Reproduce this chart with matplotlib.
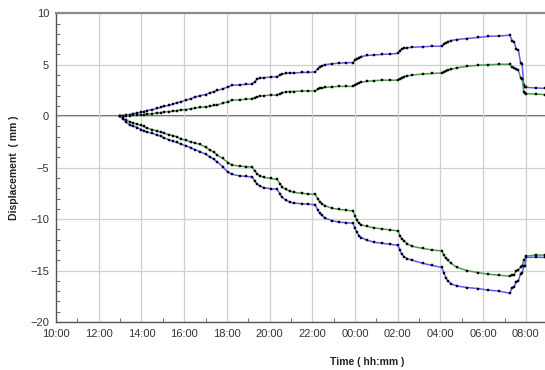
import matplotlib

matplotlib.use("Agg")
import matplotlib.pyplot as plt
from matplotlib.ticker import FixedLocator, FuncFormatter, MultipleLocator

# Time of each reading, hours counted from 00:00 of the first day.
hours = [
    13.0, 13.15, 13.3, 13.45, 13.6, 13.8, 14.0, 14.1, 14.25, 14.5,
    14.75, 14.9, 15.05, 15.3, 15.5, 15.65, 15.85, 16.1, 16.3, 16.5,
    16.75, 17.0, 17.2, 17.4, 17.55, 17.8, 18.05, 18.25, 18.6, 18.9,
    19.18, 19.3, 19.42, 19.55, 19.75, 20.05, 20.35, 20.5, 20.6, 20.75,
    20.95, 21.15, 21.5, 21.8, 22.13, 22.25, 22.35, 22.45, 22.6, 22.92,
    23.25, 23.6, 23.9, 24.0, 24.08, 24.18, 24.3, 24.56, 24.9, 25.25,
    25.65, 26.01, 26.1, 26.18, 26.3, 26.45, 26.67, 27.18, 27.6, 28.07,
    28.15, 28.25, 28.35, 28.5, 28.77, 29.24, 29.76, 30.22, 30.74, 31.25,
    31.35, 31.45, 31.55, 31.65, 31.75, 31.82, 31.9, 31.95, 32.0, 32.45,
    32.9,
]

# Displacement (mm), four gauges.
upper_blue = [
    0.0, 0.05, 0.1, 0.15, 0.25, 0.3, 0.4, 0.45, 0.55, 0.65,
    0.75, 0.85, 0.95, 1.05, 1.2, 1.3, 1.4, 1.55, 1.7, 1.85,
    2.0, 2.1, 2.25, 2.4, 2.5, 2.65, 2.85, 3.0, 3.05, 3.1,
    3.1, 3.35, 3.6, 3.7, 3.75, 3.8, 3.85, 4.0, 4.1, 4.15,
    4.2, 4.2, 4.25, 4.25, 4.3, 4.6, 4.8, 4.9, 5.0, 5.1,
    5.15, 5.2, 5.2, 5.45, 5.6, 5.7, 5.8, 5.9, 5.95, 6.0,
    6.05, 6.1, 6.35, 6.5, 6.6, 6.65, 6.7, 6.75, 6.8, 6.8,
    7.0, 7.15, 7.25, 7.35, 7.45, 7.55, 7.65, 7.75, 7.8, 7.87,
    7.35, 7.2, 6.5, 6.4, 5.2, 5.1, 3.05, 2.85, 2.8, 2.75,
    2.7,
]
upper_green = [
    0.0, 0.0, 0.05, 0.05, 0.1, 0.1, 0.15, 0.15, 0.2, 0.25,
    0.3, 0.35, 0.4, 0.45, 0.5, 0.55, 0.6, 0.65, 0.7, 0.8,
    0.85, 0.9, 0.95, 1.05, 1.1, 1.25, 1.4, 1.55, 1.6, 1.65,
    1.7, 1.8, 1.9, 1.95, 2.0, 2.05, 2.05, 2.2, 2.3, 2.35,
    2.4, 2.4, 2.45, 2.45, 2.45, 2.6, 2.7, 2.75, 2.8, 2.85,
    2.9, 2.9, 2.9, 3.05, 3.15, 3.25, 3.3, 3.4, 3.45, 3.5,
    3.5, 3.5, 3.65, 3.75, 3.85, 3.9, 4.0, 4.1, 4.15, 4.2,
    4.3, 4.4, 4.45, 4.55, 4.7, 4.85, 4.95, 5.0, 5.05, 5.05,
    4.8, 4.65, 4.55, 4.45, 3.75, 3.65, 2.4, 2.3, 2.2, 2.15,
    2.1,
]
lower_green = [
    0.0, -0.2, -0.4, -0.55, -0.65, -0.8, -0.9, -1.0, -1.15, -1.3,
    -1.45, -1.55, -1.65, -1.8, -1.9, -2.0, -2.2, -2.35, -2.5, -2.6,
    -2.75, -3.0, -3.3, -3.5, -3.8, -4.1, -4.5, -4.75, -4.85, -4.9,
    -4.95, -5.3, -5.6, -5.8, -5.95, -6.05, -6.15, -6.6, -6.9, -7.1,
    -7.3, -7.4, -7.5, -7.55, -7.6, -8.0, -8.3, -8.5, -8.7, -8.95,
    -9.05, -9.15, -9.2, -9.7, -10.1, -10.4, -10.55, -10.7, -10.85, -10.95,
    -11.05, -11.15, -11.6, -11.9, -12.1, -12.4, -12.65, -12.85, -13.0, -13.1,
    -13.5, -13.8, -14.0, -14.3, -14.7, -15.0, -15.2, -15.35, -15.45, -15.55,
    -15.45, -15.39, -15.03, -14.97, -14.65, -14.58, -13.99, -13.93, -13.6, -13.5,
    -13.5,
]
lower_blue = [
    0.0, -0.3, -0.6, -0.85, -0.95, -1.1, -1.3, -1.4, -1.55, -1.65,
    -1.85, -1.95, -2.1, -2.3, -2.45, -2.55, -2.7, -2.9, -3.05, -3.25,
    -3.45, -3.7, -3.95, -4.2, -4.45, -4.9, -5.45, -5.65, -5.8, -5.85,
    -5.9, -6.3, -6.6, -6.8, -6.95, -7.05, -7.1, -7.6, -7.9, -8.15,
    -8.35, -8.45, -8.5, -8.55, -8.6, -9.1, -9.45, -9.65, -9.9, -10.15,
    -10.3, -10.35, -10.4, -10.9, -11.3, -11.6, -11.8, -12.05, -12.25, -12.35,
    -12.45, -12.55, -13.0, -13.4, -13.65, -13.85, -14.0, -14.3, -14.5, -14.7,
    -15.2, -15.7, -16.0, -16.3, -16.5, -16.65, -16.75, -16.9, -17.0, -17.2,
    -16.65, -16.58, -16.1, -16.0, -15.29, -15.22, -14.58, -14.51, -13.73, -13.7,
    -13.73,
]

x_ticks = list(range(10, 33, 2))
y_ticks = [-20, -15, -10, -5, 0, 5, 10]

BLUE = "#5a5aff"
GREEN = "#4a9f4a"
INK = "#333333"
GRID = "#cfcfcf"

plt.rcParams.update({"font.family": ["Liberation Sans", "DejaVu Sans"], "font.size": 8})
fig = plt.figure(figsize=(5.45, 3.70), dpi=100)
ax = fig.add_axes([56 / 545, 48 / 370, 1 - 56 / 545, 308.7 / 370])

ax.set_xlim(10, 10 + (545 - 56) / 21.36)
ax.set_ylim(-20, 10)

ax.xaxis.set_major_locator(FixedLocator(x_ticks))
ax.xaxis.set_minor_locator(MultipleLocator(1))
ax.yaxis.set_major_locator(FixedLocator(y_ticks))
ax.yaxis.set_minor_locator(MultipleLocator(1))
ax.xaxis.set_major_formatter(FuncFormatter(lambda v, p: f"{int(round(v)) % 24:02d}:00"))
ax.grid(True, which="major", color=GRID, lw=0.9)
ax.tick_params(which="both", direction="in", colors="#555555", labelcolor=INK, labelsize=8)
ax.tick_params(which="major", length=0, pad=5)
ax.tick_params(which="minor", length=3)
ax.axhline(0, color="#555555", lw=1.3, zorder=1)

for s in ("left", "bottom"):
    ax.spines[s].set_color("#555555")
    ax.spines[s].set_linewidth(1.0)
ax.spines["top"].set_color("#8a8a8a")
ax.spines["top"].set_linewidth(1.6)
ax.spines["right"].set_visible(False)

for vals, col in [(upper_blue, BLUE), (upper_green, GREEN), (lower_green, GREEN), (lower_blue, BLUE)]:
    ax.plot(hours, vals, color=col, lw=1.1, marker="s", ms=1.9, mew=0.3,
            mfc="black", mec="black", zorder=3, clip_on=False)

ax.set_ylabel("Displacement  ( mm )", fontsize=7.5, weight="bold", color="#222222", labelpad=8)
fig.text(367 / 545, 1 - 362 / 370, "Time ( hh:mm )", ha="center", va="center",
         fontsize=7.5, weight="bold", color="#222222")

fig.savefig("out.png", dpi=100)
